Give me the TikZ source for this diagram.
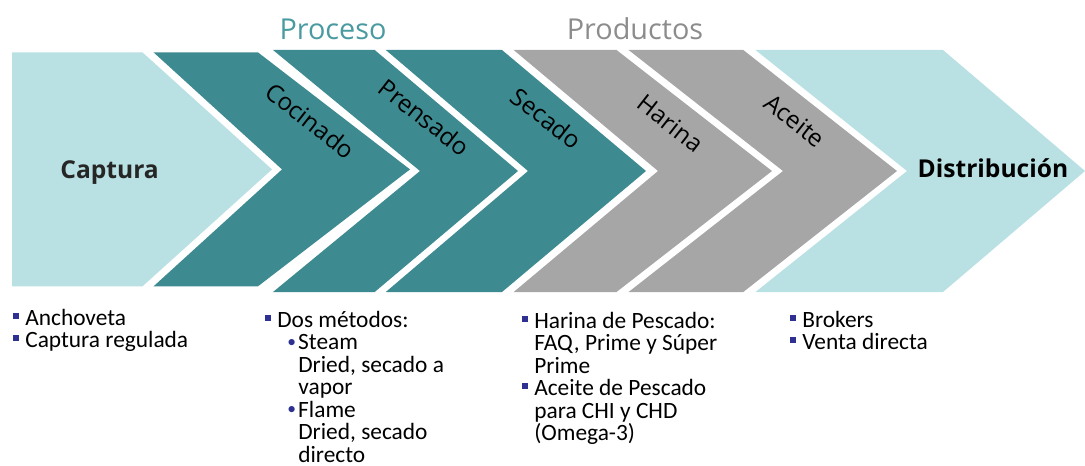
\documentclass[tikz,border=0pt]{standalone}
\usepackage{fontspec}
\setmainfont{Carlito}
\newfontfamily\labelfont{Open Sans}
\usepackage{tikz}
\usetikzlibrary{positioning}

\definecolor{chevlight}{HTML}{B9E0E3}
\definecolor{chevteal}{HTML}{3D8B91}
\definecolor{chevgray}{HTML}{A6A6A6}
\definecolor{bulletnavy}{HTML}{2E3192}
\definecolor{headteal}{HTML}{4A9AA1}
\definecolor{headgray}{HTML}{8C8C8C}

\newcommand{\sqbullet}{\makebox[7.1pt][l]{\textcolor{bulletnavy}{\rule[3.6pt]{3.3pt}{3.3pt}}}}
\newcommand{\dotbullet}{\makebox[6.2pt][l]{\textcolor{bulletnavy}{\raisebox{1.3pt}{\scalebox{.75}{\textbullet}}}}}

\begin{document}
\begin{tikzpicture}[x=0.02cm, y=-0.02cm,
        stage/.style={rotate=-38, inner sep=0pt, font=\labelfont\fontsize{13.8}{15}\selectfont},
        ends/.style={anchor=base, inner sep=0pt, font=\labelfont\bfseries\fontsize{14}{16}\selectfont},
        head/.style={anchor=base, inner sep=0pt, font=\labelfont\fontsize{16.4}{18}\selectfont},
        item/.style={anchor=base west, inner sep=0pt, font=\fontsize{13.3}{15}\selectfont}]
    \useasboundingbox (0,0) rectangle (1085,466);

    % chevrons
    \fill[chevlight] (12,52.4) -- (142.5,52.4) -- (272,169.4) -- (142.5,286.3) -- (12,286.3) -- cycle;
    \fill[chevteal] (153.6,52.4) -- (258,52.4) -- (410,169.4) -- (258,286.3) -- (153.6,286.3) -- (282,169.4) -- cycle;
    \fill[chevteal] (273,50) -- (374.7,50) -- (518,171) -- (374.7,292) -- (273,292) -- (420,171) -- cycle;
    \fill[chevteal] (385.8,50) -- (502,50) -- (646,171) -- (502,292) -- (385.8,292) -- (528,171) -- cycle;
    \fill[chevgray] (513.7,50) -- (616.5,50) -- (772,171) -- (616.5,292) -- (513.7,292) -- (658,171) -- cycle;
    \fill[chevgray] (628.6,50) -- (743.3,50) -- (897,171) -- (743.3,292) -- (628.6,292) -- (783,171) -- cycle;
    \fill[chevlight] (755.5,50) -- (943,50) -- (1085,171) -- (943,292) -- (755.5,292) -- (907,171) -- cycle;

    % headings
    \node[head, text=headteal] (proceso) at (333,40) {Proceso};
    \node[head, text=headgray] (productos) at (635,39.3) {Productos};

    % stage labels
    \node[ends, text=black!85] (captura) at (109.6,178.3) {Captura};
    \node[stage] (cocinado) at (310.4,120.7) {Cocinado};
    \node[stage] (prensado) at (424.4,117.3) {Prensado};
    \node[stage] (secado) at (546.6,118.3) {Secado};
    \node[stage] (harina) at (670.5,123.3) {Harina};
    \node[stage] (aceite) at (794.8,120.7) {Aceite};
    \node[ends] (distribucion) at (993,177) {Distribución};

    % lists
    \node[item] (anchoveta) at (12.5,325) {\sqbullet Anchoveta};
    \node[item] (capreg) at (12.5,347.5) {\sqbullet Captura regulada};

    \node[item] (dosmet) at (264.5,327) {\sqbullet Dos métodos:};
    \node[item] (steam) at (287,349.5) {\dotbullet Steam};
    \node[item] (steamb) at (298,372) {Dried, secado a};
    \node[item] (steamc) at (298,394.5) {vapor};
    \node[item] (flame) at (287,417) {\dotbullet Flame};
    \node[item] (flameb) at (298,439.5) {Dried, secado};
    \node[item] (flamec) at (298,462) {directo};

    \node[item] (harinap) at (521.5,328) {\sqbullet Harina de Pescado:};
    \node[item] (faq) at (534,350.5) {FAQ, Prime y Súper};
    \node[item] (prime) at (534,373) {Prime};
    \node[item] (aceitep) at (521.5,395.5) {\sqbullet Aceite de Pescado};
    \node[item] (chi) at (534,418) {para CHI y CHD};
    \node[item] (omega) at (534,440.5) {(Omega-3)};

    \node[item] (brokers) at (789.5,327) {\sqbullet Brokers};
    \node[item] (venta) at (789.5,349.5) {\sqbullet Venta directa};
\end{tikzpicture}
\end{document}
